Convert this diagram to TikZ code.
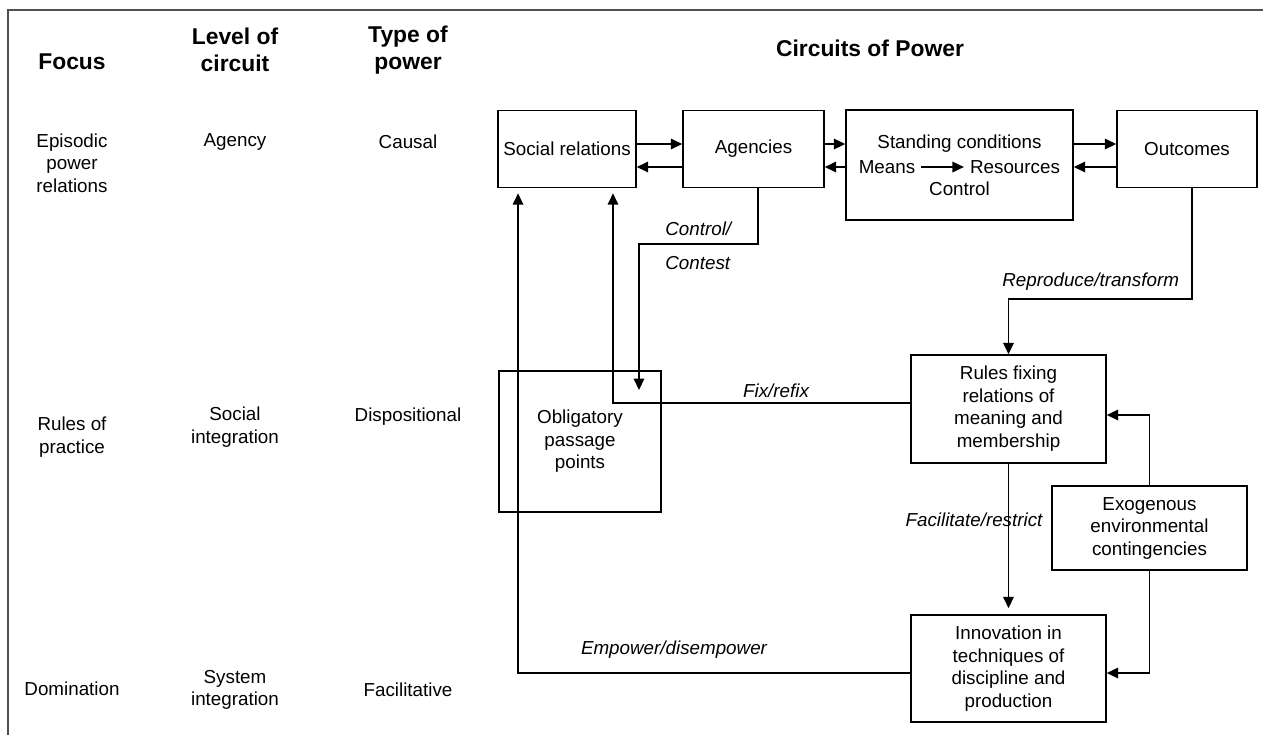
\documentclass[tikz,border=0pt]{standalone}
\usepackage{fontspec}
\setmainfont{Liberation Sans}
\usepackage{xcolor}
\usepackage{tikz}
\usetikzlibrary{arrows.meta}
\definecolor{framegray}{RGB}{80,80,80}

\newcommand{\bodyfont}{\fontsize{10.7}{12.8}\selectfont}
\newcommand{\headfont}{\fontsize{13}{15.3}\selectfont\bfseries}

\tikzset{
    box/.style={draw, line width=0.9pt, align=center, inner sep=0pt, font=\bodyfont},
    flow/.style={line width=0.9pt, -{Triangle[length=6.5pt,width=6pt]}},
    lbl/.style={font=\bodyfont\itshape, inner sep=0pt},
    txt/.style={font=\bodyfont, align=center},
    head/.style={font=\headfont, align=center}
}

\begin{document}
\begin{tikzpicture}[x=0.02cm, y=-0.02cm]
    \useasboundingbox (0,0) rectangle (1263,735);

    % Frame on top and left
    \draw[framegray, line width=1.2pt] (1263,10) -- (8,10) -- (8,735);

    % Column headings
    \node[head] (hfocus) at (72,62) {Focus};
    \node[head] (hlevel) at (235,50) {Level of\\circuit};
    \node[head] (htype) at (408,50) {Type of\\power};
    \node[head] (hcircuit) at (870,48) {Circuits of Power};

    % Left columns
    \node[txt] (fepisodic) at (72,163) {Episodic\\power\\relations};
    \node[txt] (lagency) at (235,142) {Agency};
    \node[txt] (tcausal) at (408,142) {Causal};
    \node[txt] (frules) at (72,437) {Rules of\\practice};
    \node[txt] (lsocial) at (235,427) {Social\\integration};
    \node[txt] (tdisp) at (408,417) {Dispositional};
    \node[txt] (fdom) at (72,689) {Domination};
    \node[txt] (lsystem) at (235,690) {System\\integration};
    \node[txt] (tfacil) at (408,690) {Facilitative};

    % Episodic circuit
    \node[box, minimum width=2.76cm, minimum height=1.54cm] (socrel) at (567,149) {Social relations};
    \node[box, minimum width=2.82cm, minimum height=1.54cm] (agencies) at (753.5,149) {Agencies};
    \node[box, minimum width=4.54cm, minimum height=2.2cm] (standing) at (959.5,165) {};
    \node[box, minimum width=2.8cm, minimum height=1.54cm] (outcomes) at (1187,149) {Outcomes};
    \node[txt] (stcond) at (959.5,144) {Standing conditions};
    \node[txt] (means) at (887,167) {Means};
    \node[txt] (resources) at (1015,167) {Resources};
    \node[txt] (control) at (959.5,189) {Control};
    \draw[flow] (means) -- (resources);

    \coordinate (rowhi) at (0,144);
    \coordinate (rowlo) at (0,167);
    \draw[flow] (socrel.east |- rowhi) -- (agencies.west |- rowhi);
    \draw[flow] (agencies.west |- rowlo) -- (socrel.east |- rowlo);
    \draw[flow] (agencies.east |- rowhi) -- (standing.west |- rowhi);
    \draw[flow] (standing.west |- rowlo) -- (agencies.east |- rowlo);
    \draw[flow] (standing.east |- rowhi) -- (outcomes.west |- rowhi);
    \draw[flow] (outcomes.west |- rowlo) -- (standing.east |- rowlo);

    % Social and system integration
    \node[box, minimum width=3.24cm, minimum height=2.82cm] (opp) at (580,441.5) {\raisebox{-5.5pt}{\begin{tabular}{@{}c@{}}Obligatory\\passage\\points\end{tabular}}};
    \node[box, minimum width=3.9cm, minimum height=2.16cm] (rules) at (1008.5,409) {\raisebox{-1.5pt}{\begin{tabular}{@{}c@{}}Rules fixing\\relations of\\meaning and\\membership\end{tabular}}};
    \node[box, minimum width=3.9cm, minimum height=1.68cm] (exo) at (1149.5,528) {Exogenous\\environmental\\contingencies};
    \node[box, minimum width=3.9cm, minimum height=2.14cm] (innov) at (1008.5,668.5) {Innovation in\\techniques of\\discipline and\\production};

    % Connectors between the circuits
    \coordinate (ctlbend) at (639,244);
    \coordinate (oppin) at (639,390);
    \coordinate (repbend) at (1008.5,299);
    \coordinate (fixrow) at (0,403);
    \coordinate (exorow) at (0,415);
    \coordinate (emprow) at (0,673);
    \draw[flow] ([xshift=0.09cm]agencies.south) |- (ctlbend) -- (oppin);
    \draw[flow] ([xshift=0.1cm]outcomes.south) |- (repbend) -- (rules.north);
    \draw[flow] (rules.west |- fixrow) -| ([xshift=0.92cm,yshift=-0.1cm]socrel.south);
    \draw[flow] (innov.west |- emprow) -| ([xshift=-0.98cm,yshift=-0.1cm]socrel.south);
    \draw[flow] (rules.south) -- ([yshift=0.12cm]innov.north);
    \draw[flow] (exo.north) |- (rules.east |- exorow);
    \draw[flow] (exo.south) |- (innov.east |- emprow);

    % Labels on the connectors
    \node[lbl, anchor=west] (lctl) at (665,229) {Control/};
    \node[lbl, anchor=west] (lcontest) at (665,263) {Contest};
    \node[lbl, anchor=west] (lrep) at (1002,282) {Reproduce/transform};
    \node[lbl] (lfix) at (776,391) {Fix/refix};
    \node[lbl] (lfac) at (974,520) {Facilitate/restrict};
    \node[lbl] (lemp) at (674,650) {Empower/disempower};
\end{tikzpicture}
\end{document}
